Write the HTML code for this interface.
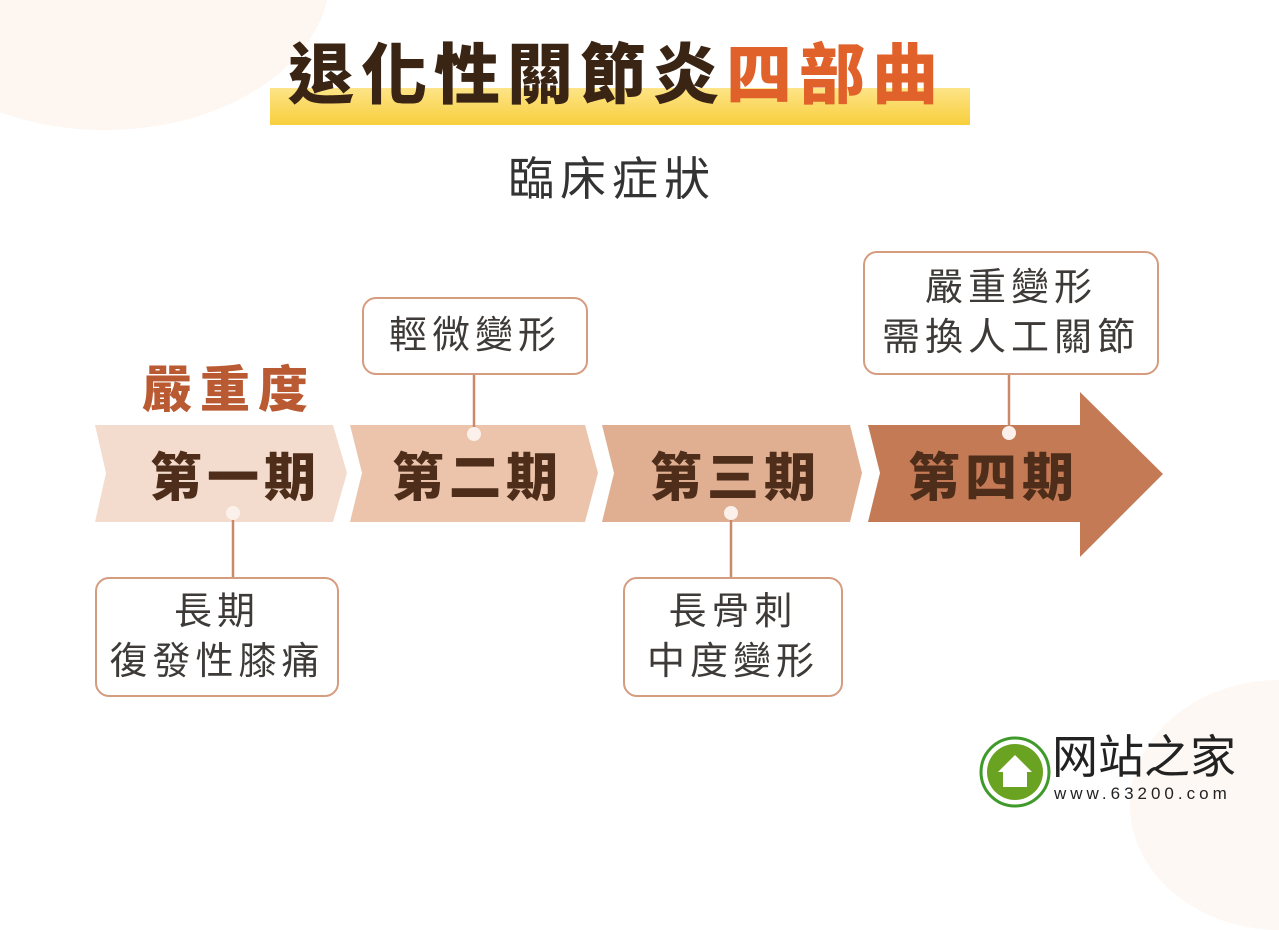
<!DOCTYPE html><html><head><meta charset="utf-8"><style>
body{margin:0;width:1279px;height:830px;overflow:hidden;background:#fff;font-family:"Liberation Sans","Noto Sans CJK TC",sans-serif;position:relative}
.a{position:absolute}
.box{position:absolute;border:2.5px solid #d59c80;border-radius:14px;background:#fff;box-sizing:border-box;display:flex;align-items:center;justify-content:center;text-align:center;color:#3d3a38;font-size:38px;line-height:50px;letter-spacing:5px}
.st{position:absolute;font-size:52px;font-weight:900;color:#4e2e1a;letter-spacing:5px;top:436px}
</style></head><body>
<div class="a" style="left:-120px;top:-180px;width:450px;height:310px;border-radius:50%;background:#fdf6f1"></div>
<div class="a" style="left:1130px;top:680px;width:300px;height:250px;border-radius:50%;background:#fdf8f4"></div>
<div class="a" style="left:270px;top:88px;width:700px;height:37px;background:linear-gradient(#fde487,#f8cf3c)"></div>
<div class="a" style="left:288px;top:22px;font-size:66px;font-weight:900;color:#3a2414;letter-spacing:7px;white-space:nowrap">退化性關節炎<span style="color:#e0622a">四部曲</span></div>
<div class="a" style="left:508px;top:143px;font-size:46px;color:#333;letter-spacing:6px">臨床症狀</div>
<div class="a" style="left:142px;top:350px;font-size:50px;font-weight:900;color:#b95a32;letter-spacing:8px">嚴重度</div>
<svg class="a" style="left:0;top:0" width="1279" height="830">
<polygon points="95,425 333,425 347,473 333,522 95,522 106,473" fill="#f3dccd"/>
<polygon points="350,425 585,425 598,473 585,522 350,522 362,473" fill="#ebc4ab"/>
<polygon points="602,425 850,425 862,473 850,522 602,522 614,473" fill="#e0ae90"/>
<polygon points="868,425 1080,425 1080,392 1163,474 1080,557 1080,522 868,522 880,473" fill="#c47a55"/>
<g stroke="#c98a6c" stroke-width="2.5">
<line x1="474" y1="374" x2="474" y2="433"/>
<line x1="1009" y1="374" x2="1009" y2="433"/>
<line x1="233" y1="513" x2="233" y2="578"/>
<line x1="731" y1="513" x2="731" y2="578"/>
</g>
<g fill="#fbf1ea"><circle cx="474" cy="434" r="7"/><circle cx="1009" cy="433" r="7"/><circle cx="233" cy="513" r="7"/><circle cx="731" cy="513" r="7"/></g>
<circle cx="1015" cy="772" r="34" fill="none" stroke="#3f9a2a" stroke-width="3"/>
<circle cx="1015" cy="772" r="28" fill="#6aa321"/>
<polygon points="1015,755 998,772 1003,772 1003,787 1027,787 1027,772 1032,772" fill="#fff"/>
</svg>
<div class="st" style="left:150px">第一期</div>
<div class="st" style="left:392px">第二期</div>
<div class="st" style="left:650px">第三期</div>
<div class="st" style="left:908px">第四期</div>
<div class="box" style="left:362px;top:297px;width:226px;height:78px">輕微變形</div>
<div class="box" style="left:863px;top:251px;width:296px;height:124px">嚴重變形<br>需換人工關節</div>
<div class="box" style="left:95px;top:577px;width:244px;height:120px">長期<br>復發性膝痛</div>
<div class="box" style="left:623px;top:577px;width:220px;height:120px">長骨刺<br>中度變形</div>
<div class="a" style="left:1052px;top:730px;font-size:46px;line-height:54px;color:#222">网站之家</div>
<div class="a" style="left:1054px;top:784px;font-size:17px;line-height:20px;color:#222;letter-spacing:4px">www.63200.com</div>
</body></html>
